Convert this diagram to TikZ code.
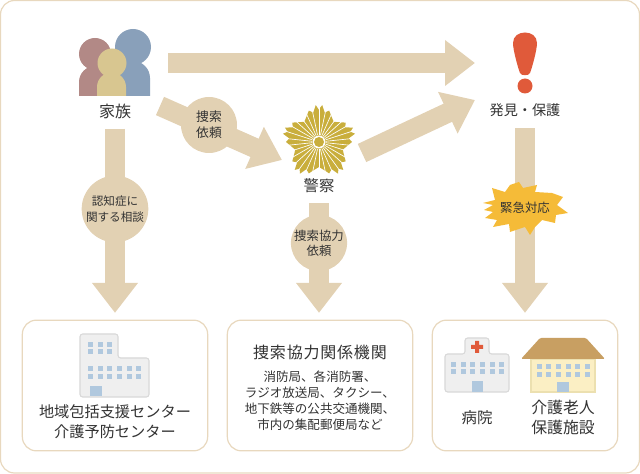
\documentclass[tikz,border=0pt]{standalone}
\usepackage{fontspec}
\setmainfont{Noto Sans CJK JP}
\usetikzlibrary{arrows.meta, positioning, calc}
\definecolor{sand}{HTML}{E2D1B3}
\definecolor{edge}{HTML}{E8D8BE}
\definecolor{ink}{HTML}{333333}
\definecolor{pane}{HTML}{B0C8DE}
\definecolor{wall}{HTML}{EFEFEF}
\definecolor{wallline}{HTML}{D8D8D8}
\definecolor{gold}{HTML}{C9AE3C}
\definecolor{flash}{HTML}{F5BB38}
\definecolor{alert}{HTML}{E05A3A}
\newcommand{\fs}[2]{\fontsize{#1}{#2}\selectfont}
\tikzset{
  bigarrow/.style={draw=sand, line width=15pt, -{Triangle[width=33pt,length=22.5pt]}},
  bubble/.style={circle, fill=sand, inner sep=0pt, text=ink, align=center},
  caption/.style={text=ink, inner sep=1.5pt, align=center, font=\fs{10.6}{14}},
  panel/.style={draw=edge, line width=0.9pt, rounded corners=10.5pt, fill=white, minimum width=139pt, minimum height=98pt, inner sep=0pt},
  block/.style={fill=wall, draw=wallline, line width=0.8pt}
}
% one row of windows
\newcommand{\panes}[2]{\foreach \wx in {#1} \fill[pane] (\wx-2.5,#2-2.5) rectangle (\wx+2.5,#2+2.5);}
\begin{document}
\begin{tikzpicture}[x=0.75pt, y=-0.75pt, >=stealth]
  \useasboundingbox (0,0) rectangle (640,474);
  \draw[edge, line width=0.9pt, rounded corners=10.5pt] (0.5,0.5) rectangle (639.5,473);

  % panels and captions
  \node[panel] (chiiki) at (115,385.5) {};
  \node[panel] (kyoryoku) at (320,385.5) {};
  \node[panel] (shisetsu) at (525,385.5) {};
  \node[caption, font=\fs{12}{14}] (kazoku) at (115,111) {家族};
  \node[caption, font=\fs{11.5}{14}] (keisatsu) at (319,186) {警察};
  \node[caption] (hakken) at (525,110) {発見・保護};

  % arrows
  \coordinate (kazokuR) at (168,63);
  \coordinate (hakkenL) at (475,63);
  \coordinate (kazokuD) at (160,106);
  \coordinate (keisatsuL) at (282,160);
  \coordinate (keisatsuR) at (362,153);
  \coordinate (hakkenD) at (475,100);
  \draw[bigarrow] (kazokuR) -- (hakkenL);
  \draw[bigarrow] (kazokuD) -- (keisatsuL);
  \draw[bigarrow] (keisatsuR) -- (hakkenD);
  \draw[bigarrow, shorten <=6pt, shorten >=5pt] (kazoku.south) -- (chiiki.north);
  \draw[bigarrow, shorten <=6pt, shorten >=5pt] (keisatsu.south) -- (keisatsu.south |- kyoryoku.north);
  \draw[bigarrow, shorten <=7pt, shorten >=5pt] (hakken.south) -- (shisetsu.north);

  \node[bubble, minimum size=42pt, font=\fs{9.6}{12}] (irai) at (209,125) {捜索\\依頼};
  \node[bubble, minimum size=50pt, font=\fs{8.7}{11.5}] (soudan) at (115,209) {認知症に\\関する相談};
  \node[bubble, minimum size=42pt, font=\fs{9.3}{11.5}] (kyoryokuirai) at (319,243) {捜索協力\\依頼};

  % family
  \fill[fill={rgb,255:red,137;green,160;blue,186}] (133,47) circle (18)
    (115,96) -- (115,78) arc[start angle=180, end angle=270, radius=17] -- (133,61) arc[start angle=270, end angle=360, radius=17] -- (150,96) -- cycle;
  \fill[fill={rgb,255:red,178;green,137;blue,134}] (95,54) circle (16)
    (79,96) -- (79,82) arc[start angle=180, end angle=270, radius=16] -- (111,66) -- (111,96) -- cycle;
  \fill[fill={rgb,255:red,216;green,198;blue,144}] (112,63) circle (14.5)
    (97,96) -- (97,87) arc[start angle=180, end angle=360, radius=14.5] -- (126,96) -- cycle;

  % badge
  \begin{scope}[shift={(319,142)}, yscale=-1]
    \fill[gold] (90:32)
      \foreach \tipang in {90,18,-54,-126,-198} {
        -- (\tipang:33) -- (\tipang-5:37) -- (\tipang-11:30) -- (\tipang-18:33) -- (\tipang-27:28) -- (\tipang-36:25)
        -- (\tipang-45:28) -- (\tipang-54:33) -- (\tipang-61:30) -- (\tipang-67:37)
      } -- cycle;
    \foreach \rayang in {0,12,...,348}
      \draw[white, line width=0.5pt] (\rayang+6:7) -- (\rayang+6:38);
    \fill[white] (0,0) circle (6.5);
    \fill[gold] (0,0) circle (5);
  \end{scope}

  % exclamation mark
  \fill[alert] (513,43) .. controls (513,29) and (537,29) .. (537,43)
    .. controls (537,50) and (532,68) .. (530,73)
    .. controls (529,76) and (521,76) .. (520,73)
    .. controls (518,68) and (513,50) .. (513,43) -- cycle;
  \fill[alert] (525,86) circle (7.5);

  % burst
  \fill[flash] (483,203) -- (495,200) -- (492,188) -- (505,192) -- (510,185) -- (519,182) -- (523,188)
    -- (537,185) -- (535,192) -- (552,193) -- (563,197) -- (557,205) -- (568,213) -- (556,215)
    -- (555,223) -- (542,220) -- (535,227) -- (530,235) -- (525,227) -- (510,232) -- (509,224)
    -- (493,227) -- (497,220) -- (485,218) -- (493,212) -- (484,210) -- (493,205) -- cycle;
  \node[text=ink, inner sep=0pt, font=\fs{9.3}{12}] (kinkyu) at (525,208) {緊急対応};

  % office
  \draw[block, rounded corners=2pt] (80,397) -- (80,334) -- (118,334) -- (118,358) -- (149,358) -- (149,397) -- cycle;
  \panes{90,100,109}{345}
  \panes{90,100,109}{352}
  \panes{90,100,109,119,129,138}{369}
  \panes{90,100,109,119,129,138}{377}
  \fill[pane] (90,386) rectangle (102,396);
  \node[text=ink, inner sep=0pt, align=center, font=\fs{11.4}{15}] (chiikitxt) at (115,422) {地域包括支援センター\\介護予防センター};

  % hospital
  \draw[block, rounded corners=2pt] (445,392) -- (445,354) -- (465,354) -- (465,338) -- (489,338) -- (489,354) -- (509,354) -- (509,392) -- cycle;
  \fill[alert] (475,341) rectangle (479,353) (471,345) rectangle (483,349);
  \panes{453,463,472,482,492,501}{365}
  \panes{453,463,472,482,492,501}{372}
  \fill[pane] (472,381) rectangle (483,392);
  \node[text=ink, inner sep=0pt, font=\fs{11.6}{14}] (byoin) at (477,418) {病院};

  % care home
  \fill[fill={rgb,255:red,251;green,239;blue,196}, draw={rgb,255:red,236;green,224;blue,176}, line width=0.8pt] (531,359) rectangle (595,392);
  \fill[fill={rgb,255:red,200;green,159;blue,98}, rounded corners=1pt] (540,338) -- (586,338) -- (605,359) -- (521,359) -- cycle;
  \panes{539,548,558,568,577,587}{367}
  \panes{539,548,558,568,577,587}{375}
  \fill[pane] (557,382) rectangle (569,392);
  \node[text=ink, inner sep=0pt, align=center, font=\fs{11.9}{14.5}] (roujin) at (563,417.5) {介護老人\\保護施設};

  % middle panel text
  \node[text=ink, inner sep=0pt, font={\fs{12}{14}\addfontfeature{LetterSpace=5}}] (kikan) at (320,352) {捜索協力関係機関};
  \node[text=ink, inner sep=0pt, align=center, font=\fs{9.4}{12}] (kikanlist) at (320,401) {消防局、各消防署、\\ラジオ放送局、タクシー、\\地下鉄等の公共交通機関、\\市内の集配郵便局など};
\end{tikzpicture}
\end{document}
